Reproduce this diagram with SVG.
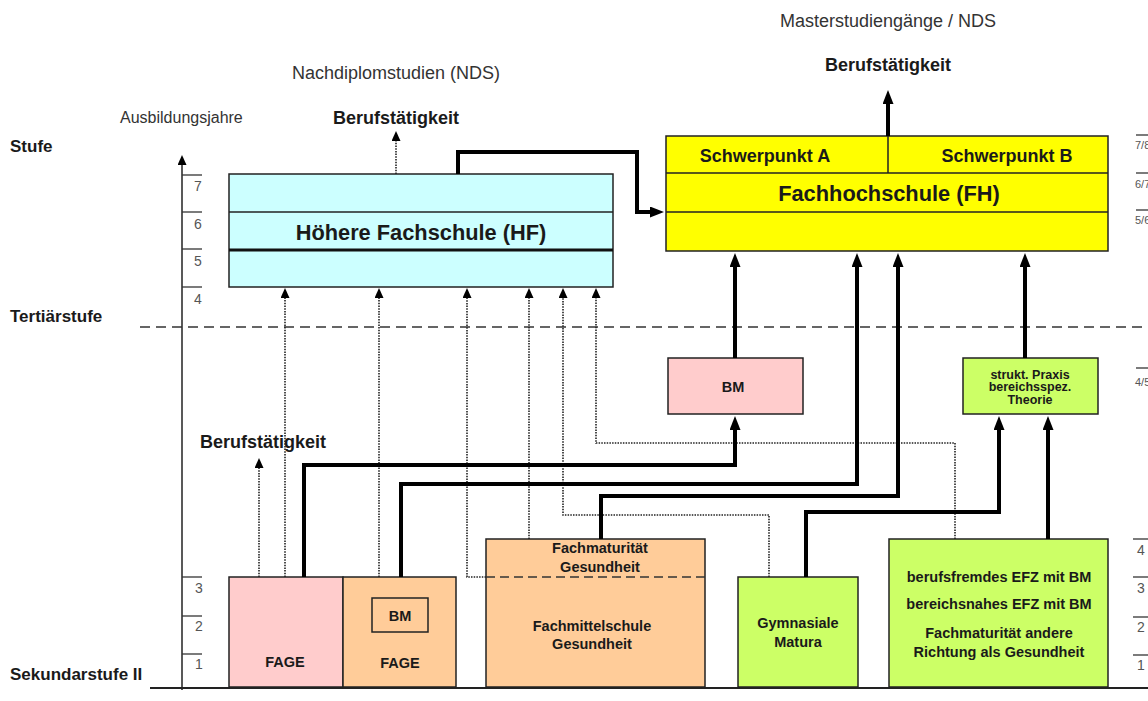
<svg xmlns="http://www.w3.org/2000/svg" width="1148" height="701" viewBox="0 0 1148 701">
<style>
text{font-family:"Liberation Sans",Arial,sans-serif;fill:#1a1a1a}
.b{font-weight:bold}
.c{text-anchor:middle}
.lbl{font-size:18px}
.stufe{font-size:17px;font-weight:bold}
.ax{font-size:14px;fill:#555}
.axr{font-size:11px;fill:#555}
.box{stroke:#222;stroke-width:1.5}
.hf{fill:#CCFFFF}
.fh{fill:#FFFF00}
.pink{fill:#FFCCCC}
.org{fill:#FFCC99}
.grn{fill:#CCFF66}
.thin{stroke:#222;stroke-width:1.5;fill:none}
.tick{stroke:#333;stroke-width:1.3}
.dash{stroke:#333;stroke-width:1.5;stroke-dasharray:10,6;fill:none}
.thick{stroke:#000;stroke-width:4;fill:none;marker-end:url(#ah)}
.dot{stroke:#222;stroke-width:1.6;stroke-dasharray:1.5,1.2;fill:none;marker-end:url(#ahs)}
.t14{font-size:14.5px;font-weight:bold}
</style>
<defs>
<marker id="ah" viewBox="0 0 14 11" refX="2" refY="5.5" markerWidth="14" markerHeight="11" markerUnits="userSpaceOnUse" orient="auto"><path d="M0,0 L14,5.5 L0,11 z" fill="#000"/></marker>
<marker id="ahs" viewBox="0 0 10 9" refX="2" refY="4.5" markerWidth="10" markerHeight="9" markerUnits="userSpaceOnUse" orient="auto"><path d="M0,0 L10,4.5 L0,9 z" fill="#000"/></marker>
</defs>
<rect width="1148" height="701" fill="#fff"/>

<g id="axes">
<line x1="182" y1="690" x2="182" y2="163" stroke="#222" stroke-width="1.5" marker-end="url(#ahs)"/>
<line x1="150" y1="688" x2="1148" y2="688" stroke="#222" stroke-width="2"/>
<line x1="140" y1="327" x2="1148" y2="327" class="dash"/>
<g class="tick">
<line x1="182" y1="175" x2="202" y2="175"/><line x1="182" y1="212" x2="202" y2="212"/><line x1="182" y1="249" x2="202" y2="249"/><line x1="182" y1="287" x2="202" y2="287"/>
<line x1="182" y1="577" x2="202" y2="577"/><line x1="182" y1="616" x2="202" y2="616"/><line x1="182" y1="654" x2="202" y2="654"/>
<line x1="1136" y1="135" x2="1148" y2="135"/><line x1="1136" y1="173" x2="1148" y2="173"/><line x1="1136" y1="210" x2="1148" y2="210"/><line x1="1136" y1="368" x2="1148" y2="368"/>
<line x1="1133" y1="539" x2="1148" y2="539"/><line x1="1133" y1="577" x2="1148" y2="577"/><line x1="1133" y1="617" x2="1148" y2="617"/><line x1="1133" y1="655" x2="1148" y2="655"/>
</g>
<text class="ax c" x="198" y="191">7</text>
<text class="ax c" x="198" y="229">6</text>
<text class="ax c" x="198" y="266">5</text>
<text class="ax c" x="198" y="304">4</text>
<text class="ax c" x="199" y="593">3</text>
<text class="ax c" x="199" y="631">2</text>
<text class="ax c" x="199" y="669">1</text>
<text class="axr" x="1135" y="149">7/8</text>
<text class="axr" x="1135" y="188">6/7</text>
<text class="axr" x="1135" y="224">5/6</text>
<text class="axr" x="1135" y="386">4/5</text>
<text class="ax" x="1137" y="555">4</text>
<text class="ax" x="1137" y="593">3</text>
<text class="ax" x="1137" y="632">2</text>
<text class="ax" x="1137" y="670">1</text>
</g>

<g id="labels">
<text class="stufe" x="10" y="152">Stufe</text>
<text class="stufe" x="10" y="322">Tertiärstufe</text>
<text class="stufe" x="10" y="680">Sekundarstufe II</text>
<text x="120" y="123" style="font-size:16px;fill:#333">Ausbildungsjahre</text>
<text class="lbl c" x="396" y="79" style="fill:#333">Nachdiplomstudien (NDS)</text>
<text class="lbl c b" x="396" y="124">Berufstätigkeit</text>
<text class="lbl c" x="888" y="27" style="fill:#333">Masterstudiengänge / NDS</text>
<text class="lbl c b" x="888" y="71">Berufstätigkeit</text>
<text class="lbl b" x="200" y="448">Berufstätigkeit</text>
</g>

<g id="node-hf">
<rect x="229" y="174" width="384" height="113" class="box hf"/>
<line x1="229" y1="212" x2="613" y2="212" class="thin"/>
<line x1="229" y1="250" x2="613" y2="250" stroke="#111" stroke-width="3"/>
<text class="b c" x="421" y="240" style="font-size:21.8px">Höhere Fachschule (HF)</text>
</g>

<g id="node-fh">
<rect x="666" y="136" width="442" height="115" class="box fh"/>
<line x1="666" y1="173" x2="1108" y2="173" class="thin"/>
<line x1="666" y1="212" x2="1108" y2="212" class="thin"/>
<line x1="888" y1="136" x2="888" y2="173" class="thin"/>
<text class="b c" x="765" y="162" style="font-size:18px">Schwerpunkt A</text>
<text class="b c" x="1007" y="162" style="font-size:18px">Schwerpunkt B</text>
<text class="b c" x="889" y="201" style="font-size:21.8px">Fachhochschule (FH)</text>
</g>

<g id="node-bm-mid">
<rect x="668" y="358" width="135" height="56" class="box pink"/>
<text class="t14 c" x="733" y="392">BM</text>
</g>

<g id="node-strukt">
<rect x="963" y="358" width="135" height="56" class="box grn"/>
<text class="b c" x="1030" y="379" style="font-size:12.5px">strukt. Praxis</text>
<text class="b c" x="1030" y="391" style="font-size:12.5px">bereichsspez.</text>
<text class="b c" x="1030" y="404" style="font-size:12.5px">Theorie</text>
</g>

<g id="node-fage1">
<rect x="229" y="577" width="114" height="110" class="box pink"/>
<text class="t14 c" x="285" y="667">FAGE</text>
</g>

<g id="node-fage2">
<rect x="343" y="577" width="113" height="110" class="box org"/>
<rect x="372" y="598" width="56" height="34" class="box org"/>
<text class="t14 c" x="400" y="621">BM</text>
<text class="t14 c" x="400" y="668">FAGE</text>
</g>

<g id="node-fms">
<rect x="486" y="539" width="219" height="148" class="box org"/>
<line x1="486" y1="577" x2="705" y2="577" class="dash" style="stroke-dasharray:9,5"/>
<text class="t14 c" x="600" y="553">Fachmaturität</text>
<text class="t14 c" x="600" y="572">Gesundheit</text>
<text class="t14 c" x="592" y="631">Fachmittelschule</text>
<text class="t14 c" x="592" y="649">Gesundheit</text>
</g>

<g id="node-gym">
<rect x="738" y="577" width="120" height="110" class="box grn"/>
<text class="t14 c" x="798" y="628">Gymnasiale</text>
<text class="t14 c" x="798" y="647">Matura</text>
</g>

<g id="node-efz">
<rect x="889" y="539" width="219" height="148" class="box grn"/>
<text class="t14 c" x="999" y="582">berufsfremdes EFZ mit BM</text>
<text class="t14 c" x="999" y="609">bereichsnahes EFZ mit BM</text>
<text class="t14 c" x="999" y="638">Fachmaturität andere</text>
<text class="t14 c" x="999" y="657">Richtung als Gesundheit</text>
</g>

<g id="connectors">
<path class="dot" d="M396,174 V139"/>
<path class="dot" d="M259,577 V466"/>
<path class="dot" d="M285,577 V296"/>
<path class="dot" d="M379,577 V296"/>
<path class="dot" d="M486,577 H467 V296"/>
<path class="dot" d="M529,539 V296"/>
<path class="dot" d="M769,577 V515 H563 V296"/>
<path class="dot" d="M955,539 V443 H596 V296"/>
<path class="thick" d="M458,174 V152 H637 V212 H652"/>
<path class="thick" d="M888,136 V102"/>
<path class="thick" d="M304,577 V465 H735 V428"/>
<path class="thick" d="M401,577 V484 H857 V265"/>
<path class="thick" d="M601,539 V496 H898 V265"/>
<path class="thick" d="M735,358 V265"/>
<path class="thick" d="M806,577 V512 H999 V428"/>
<path class="thick" d="M1048,539 V428"/>
<path class="thick" d="M1025,358 V265"/>
</g>
</svg>
